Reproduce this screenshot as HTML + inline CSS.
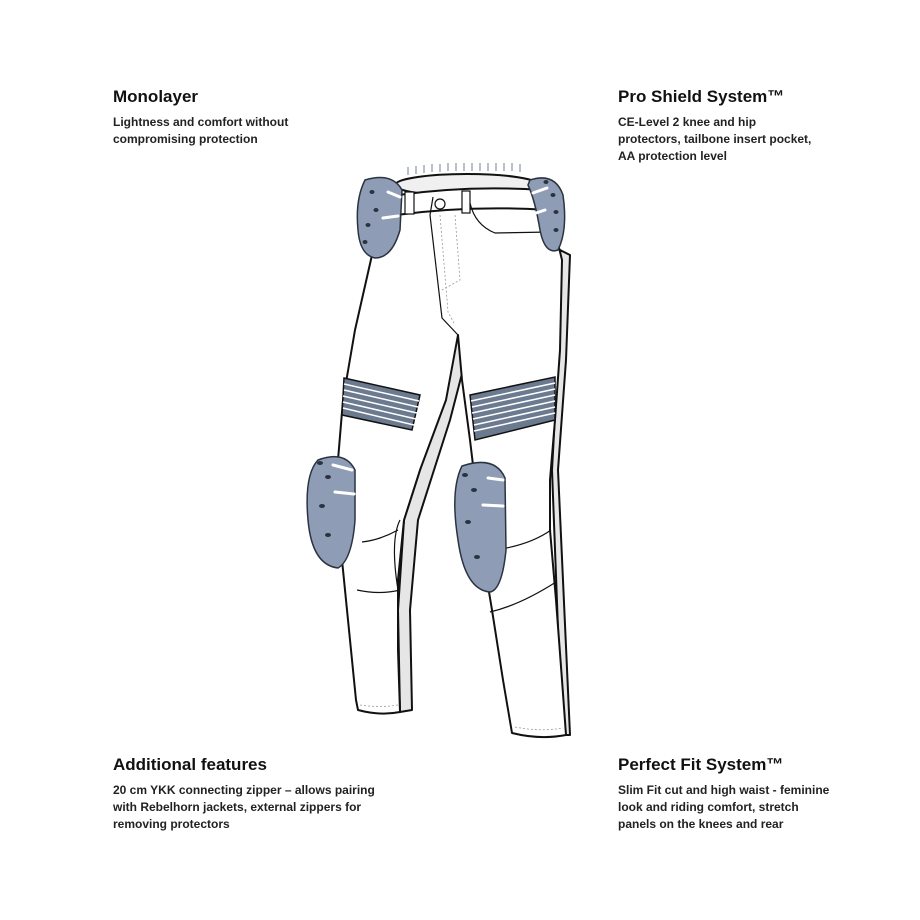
<!DOCTYPE html>
<html><head><style>
body{margin:0;width:920px;height:920px;background:#fff;position:relative;overflow:hidden;font-family:"Liberation Sans",sans-serif;color:#111}
.b{position:absolute;width:300px}
.b h2{margin:0 0 7px;font-size:17px;font-weight:bold;line-height:20px}
.b p{margin:0;font-size:12px;line-height:17px;font-weight:bold;color:#222}
svg{position:absolute;left:0;top:0}
</style></head><body>
<div class="b" style="left:113px;top:87px"><h2>Monolayer</h2><p>Lightness and comfort without<br>compromising protection</p></div>
<div class="b" style="left:618px;top:87px"><h2>Pro Shield System™</h2><p>CE-Level 2 knee and hip<br>protectors, tailbone insert pocket,<br>AA protection level</p></div>
<div class="b" style="left:113px;top:755px"><h2>Additional features</h2><p>20 cm YKK connecting zipper – allows pairing<br>with Rebelhorn jackets, external zippers for<br>removing protectors</p></div>
<div class="b" style="left:618px;top:755px"><h2>Perfect Fit System™</h2><p>Slim Fit cut and high waist - feminine<br>look and riding comfort, stretch<br>panels on the knees and rear</p></div>
<svg width="920" height="920" viewBox="0 0 920 920">
<g stroke="#111" stroke-width="2" stroke-linejoin="round" fill="#fff">
<!-- back strip of left leg -->
<path d="M458 330 L472 335 L450 420 L418 520 L410 610 L412 710 L400 712 L398 610 L404 520 L436 420 Z" fill="#e6e6e6"/>
<!-- right leg back strip -->
<path d="M560 250 L570 255 L566 360 L558 470 L570 735 L562 735 L552 470 L558 360 Z" fill="#e6e6e6"/>
<!-- main body -->
<path d="M395 190 L372 255 L355 330 L343 400 L338 460 L340 540 L348 620 L356 700 L358 710 Q380 716 400 712 L398 650 L398 580 L404 520 L420 470 L446 400 L458 335 L462 380 L470 440 L476 490 L482 550 L492 610 L503 680 L512 733 Q540 740 566 735 L562 680 L556 600 L550 530 L550 480 L555 420 L560 350 L562 260 L545 190 Z"/>
<!-- waist top -->
<ellipse cx="467" cy="185" rx="72" ry="11" fill="#f0f0f0"/>
<path d="M398 195 Q470 185 542 190 L548 210 Q470 205 396 215 Z" fill="#fff"/>
</g>
<g stroke="#8c97a8" stroke-width="1.2">
<path d="M408 175 v-8 M416 174 v-8 M424 173 v-8 M432 172 v-8 M440 172 v-8 M448 171 v-8 M456 171 v-8 M464 171 v-8 M472 171 v-8 M480 171 v-8 M488 171 v-8 M496 171 v-8 M504 171 v-8 M512 171 v-8 M520 172 v-8"/>
</g>
<g fill="none" stroke="#111" stroke-width="1.2">
<path d="M433 197 L430 215 L442 318 L458 335"/>
<path d="M398 213 L396 225"/>
<path d="M470 203 Q475 225 495 233 L550 232"/>
<circle cx="440" cy="204" r="5" fill="#fff"/>
<rect x="405" y="192" width="9" height="22" fill="#fff"/>
<rect x="462" y="191" width="8" height="22" fill="#fff"/>
<path d="M400 520 Q390 540 398 590" />
<path d="M357 590 Q380 595 400 590"/>
<path d="M490 612 Q520 605 556 582"/>
<path d="M362 542 Q380 540 398 530"/>
<path d="M495 550 Q530 545 551 530"/>
</g>
<g fill="none" stroke="#999" stroke-width="0.8" stroke-dasharray="2 2">
<path d="M440 215 L448 312 L455 325"/><path d="M455 215 L460 280 L442 290"/>
<path d="M360 705 Q380 708 398 705"/><path d="M515 727 Q540 732 563 728"/>
</g>
<!-- knee bands -->
<g stroke="#111" stroke-width="1.5">
<path d="M344 378 L420 395 L412 430 L342 415 Z" fill="#6c7a90"/>
<path d="M470 395 L555 377 L555 420 L475 440 Z" fill="#6c7a90"/>
</g>
<g stroke="#fff" stroke-width="1.5">
<path d="M344 384 L419 401 M344 390 L418 407 M343 396 L417 413 M343 402 L416 419 M343 408 L414 425"/>
<path d="M471 401 L555 383 M472 407 L555 389 M472 413 L555 395 M473 419 L555 401 M474 425 L555 407 M474 431 L555 413"/>
</g>
<!-- pads -->
<g fill="#8e9db5" stroke="#2a3340" stroke-width="1.5">
<path d="M365 180 Q392 172 402 190 L400 230 Q392 258 375 258 Q360 255 358 230 Q355 200 365 180 Z"/>
<path d="M530 180 Q555 172 563 195 Q568 230 558 250 Q545 255 540 230 Q535 200 528 185 Z"/>
<path d="M318 460 Q345 450 355 470 L355 520 Q352 560 338 568 Q312 565 308 520 Q304 475 318 460 Z"/>
<path d="M462 466 Q495 455 505 478 L506 550 Q502 590 490 592 Q465 590 458 540 Q450 490 462 466 Z"/>
</g>
<g fill="#2a3340">
<ellipse cx="320" cy="463" rx="3" ry="2"/><ellipse cx="328" cy="477" rx="3" ry="2"/><ellipse cx="322" cy="506" rx="3" ry="2"/><ellipse cx="328" cy="535" rx="3" ry="2"/>
<ellipse cx="465" cy="475" rx="3" ry="2"/><ellipse cx="474" cy="490" rx="3" ry="2"/><ellipse cx="468" cy="522" rx="3" ry="2"/><ellipse cx="477" cy="557" rx="3" ry="2"/>
<ellipse cx="372" cy="192" rx="2.5" ry="2"/><ellipse cx="376" cy="210" rx="2.5" ry="2"/><ellipse cx="368" cy="225" rx="2.5" ry="2"/><ellipse cx="365" cy="242" rx="2.5" ry="2"/>
<ellipse cx="546" cy="182" rx="2.5" ry="2"/><ellipse cx="553" cy="195" rx="2.5" ry="2"/><ellipse cx="556" cy="212" rx="2.5" ry="2"/><ellipse cx="556" cy="230" rx="2.5" ry="2"/>
</g>
<g stroke="#fff" stroke-width="3" stroke-linecap="round">
<path d="M333 465 L352 470 M335 492 L354 494 M488 478 L503 480 M483 505 L503 506 M388 192 L400 197 M383 218 L398 216 M533 193 L547 188 M530 215 L545 210"/>
</g>
</svg>
</body></html>
